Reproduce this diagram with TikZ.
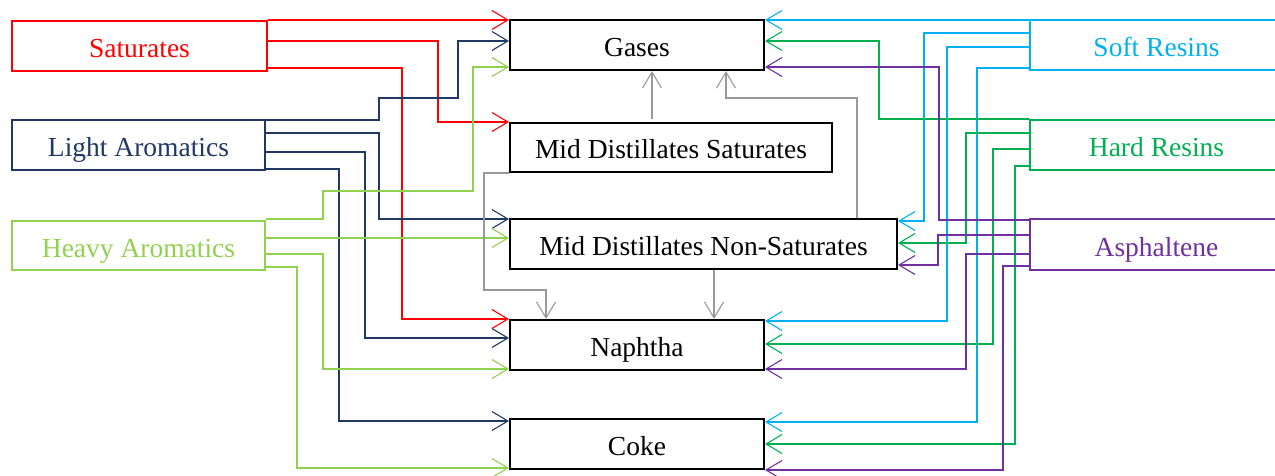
\documentclass[tikz,border=0pt]{standalone}
\usepackage{fontspec}
\setmainfont{Liberation Serif}
\usetikzlibrary{arrows.meta}
\definecolor{cred}{HTML}{FF0000}
\definecolor{cdblue}{HTML}{1F3864}
\definecolor{clgreen}{HTML}{92D050}
\definecolor{clblue}{HTML}{00B0F0}
\definecolor{cgreen}{HTML}{00B050}
\definecolor{cpurple}{HTML}{7030A0}
\definecolor{cgrey}{HTML}{999999}
\begin{document}
\begin{tikzpicture}[x=1pt,y=-1pt,
  box/.style={draw, line width=2pt, anchor=north west, inner sep=0pt,
    text height=23pt, text depth=0pt,
    font=\fontsize{27.5}{32}\selectfont},
  conn/.style={line width=1.1pt, -{Straight Barb[length=16pt,width=19pt]}},
]
\useasboundingbox (0,0) rectangle (1275,476);
% left sources
\node[box, cred, text=cred, minimum width=255pt, minimum height=50pt] (sat) at (11,20) {Saturates};
\node[box, cdblue, text=cdblue, minimum width=253pt, minimum height=50pt] (la) at (11,119) {Light Aromatics};
\node[box, clgreen, text=clgreen, minimum width=253pt, minimum height=49pt] (ha) at (11,220) {Heavy Aromatics};
% centre products
\node[box, minimum width=254pt, minimum height=50pt] (gas) at (509,19) {Gases};
\node[box, minimum width=322pt, minimum height=49pt] (mds) at (509,122) {Mid Distillates Saturates};
\node[box, minimum width=387pt, minimum height=50pt] (mdns) at (509,218) {Mid Distillates Non-Saturates};
\node[box, minimum width=254pt, minimum height=50pt] (nap) at (509,319) {Naphtha};
\node[box, minimum width=254pt, minimum height=50pt] (coke) at (509,418) {Coke};
% right sources
\node[box, clblue, text=clblue, minimum width=253pt, minimum height=50pt] (soft) at (1029,19) {Soft Resins};
\node[box, cgreen, text=cgreen, minimum width=253pt, minimum height=50pt] (hard) at (1029,119) {Hard Resins};
\node[box, cpurple, text=cpurple, minimum width=253pt, minimum height=51pt] (asph) at (1029,218) {Asphaltene};

% Saturates
\draw[conn, cred] (sat.east |- 0,20) -- (gas.west |- 0,20);
\draw[conn, cred] (sat.east |- 0,41) -| (438,122) -- (mds.west |- 0,122);
\draw[conn, cred] (sat.east |- 0,68) -| (402,319) -- (nap.west |- 0,319);
% Light Aromatics
\draw[conn, cdblue] (la.east |- 0,120) -| (379,98) -| (458,41) -- (gas.west |- 0,41);
\draw[conn, cdblue] (la.east |- 0,133) -| (379,219) -- (mdns.west |- 0,219);
\draw[conn, cdblue] (la.east |- 0,152) -| (365,338) -- (nap.west |- 0,338);
\draw[conn, cdblue] (la.east |- 0,169) -| (339,421) -- (coke.west |- 0,421);
% Heavy Aromatics
\draw[conn, clgreen] (ha.east |- 0,219) -| (323,191) -| (473,67) -- (gas.west |- 0,67);
\draw[conn, clgreen] (ha.east |- 0,238) -- (mdns.west |- 0,238);
\draw[conn, clgreen] (ha.east |- 0,254) -| (323,369) -- (nap.west |- 0,369);
\draw[conn, clgreen] (ha.east |- 0,267) -| (297,468) -- (coke.west |- 0,468);
% Soft Resins
\draw[conn, clblue] (soft.west |- 0,20) -- (gas.east |- 0,20);
\draw[conn, clblue] (soft.west |- 0,33) -| (924,221) -- (mdns.east |- 0,221);
\draw[conn, clblue] (soft.west |- 0,47) -| (947,321) -- (nap.east |- 0,321);
\draw[conn, clblue] (soft.west |- 0,68) -| (977,422) -- (coke.east |- 0,422);
% Hard Resins
\draw[conn, cgreen] (hard.west |- 0,119) -| (879,41) -- (gas.east |- 0,41);
\draw[conn, cgreen] (hard.west |- 0,133) -| (966,243) -- (mdns.east |- 0,243);
\draw[conn, cgreen] (hard.west |- 0,149) -| (993,344) -- (nap.east |- 0,344);
\draw[conn, cgreen] (hard.west |- 0,166) -| (1015,444) -- (coke.east |- 0,444);
% Asphaltene
\draw[conn, cpurple] (asph.west |- 0,220) -| (939,67) -- (gas.east |- 0,67);
\draw[conn, cpurple] (asph.west |- 0,235) -| (938,265) -- (mdns.east |- 0,265);
\draw[conn, cpurple] (asph.west |- 0,254) -| (966,369) -- (nap.east |- 0,369);
\draw[conn, cpurple] (asph.west |- 0,266) -| (1003,470) -- (coke.east |- 0,470);
% grey internal flows
\draw[conn, cgrey] ([yshift=3pt]mds.north -| 652,0) -- (gas.south -| 652,0);
\draw[conn, cgrey] (mdns.north -| 857,0) |- (726,98) -- (gas.south -| 726,0);
\draw[conn, cgrey] (mds.south west) -| (484,290) -| (nap.north -| 546,0);
\draw[conn, cgrey] (mdns.south -| 714,0) -- (nap.north -| 714,0);
\end{tikzpicture}
\end{document}
